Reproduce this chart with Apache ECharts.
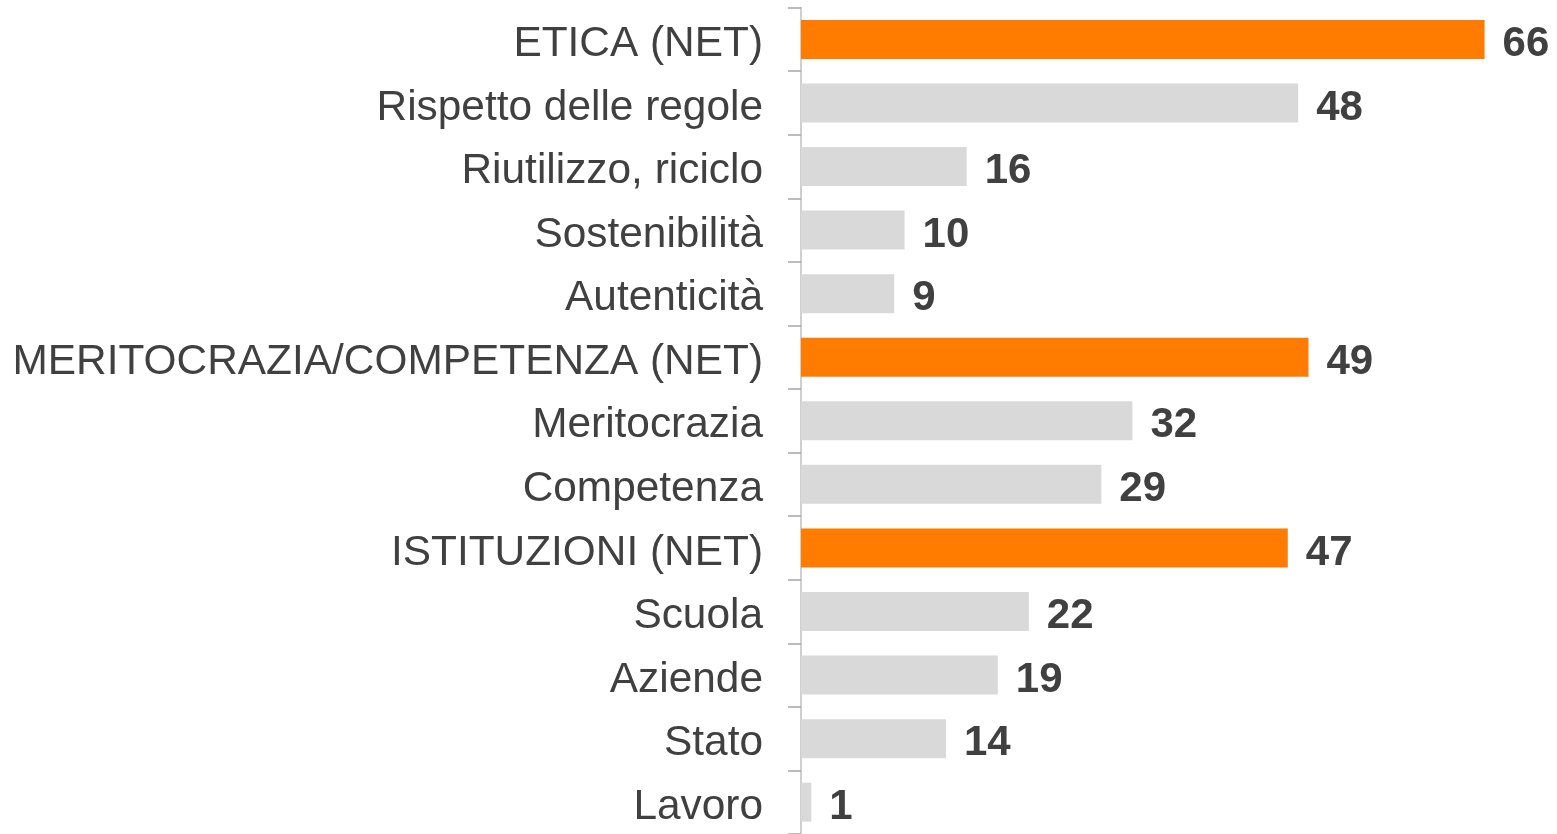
<!DOCTYPE html>
<html>
<head>
<meta charset="utf-8">
<script src="https://cdn.jsdelivr.net/npm/echarts@6/dist/echarts.min.js"></script>
<style>html,body{margin:0;padding:0;background:#fff}#c{width:1557px;height:834px}</style>
</head>
<body>
<div id="c"></div>
<script>
const categories = ["ETICA (NET)","Rispetto delle regole","Riutilizzo, riciclo","Sostenibilità","Autenticità","MERITOCRAZIA/COMPETENZA (NET)","Meritocrazia","Competenza","ISTITUZIONI (NET)","Scuola","Aziende","Stato","Lavoro"];
const values = [66,48,16,10,9,49,32,29,47,22,19,14,1];
const isNet = [true,false,false,false,false,true,false,false,true,false,false,false,false];
const NET_COLOR = '#FF7C00', ITEM_COLOR = '#D9D9D9';

const chart = echarts.init(document.getElementById('c'), null, {renderer:'canvas'});
chart.setOption({
  animation:false,
  grid:{left:801, top:7.6, width:725, height:829, containLabel:false},
  xAxis:{type:'value', min:0, max:70, show:false, splitLine:{show:false}},
  yAxis:{type:'category', data:categories, inverse:true,
    axisLine:{show:true, lineStyle:{color:'#BFBFBF', width:1.5}},
    axisTick:{show:true, length:13, lineStyle:{color:'#A6A6A6', width:1.5}},
    axisLabel:{margin:38, color:'#404040', fontSize:42.4, verticalAlign:'top', lineHeight:10, fontFamily:'Liberation Sans, Arial, sans-serif'}
  },
  series:[{type:'bar', barWidth:39,
    data: values.map((v,i)=>({value:v, itemStyle:{color:isNet[i]?NET_COLOR:ITEM_COLOR}})),
    label:{show:true, position:'right', distance:18, color:'#404040', fontSize:42, fontWeight:'bold', verticalAlign:'top', lineHeight:10, fontFamily:'Liberation Sans, Arial, sans-serif'}
  }]
});
</script>
</body>
</html>
